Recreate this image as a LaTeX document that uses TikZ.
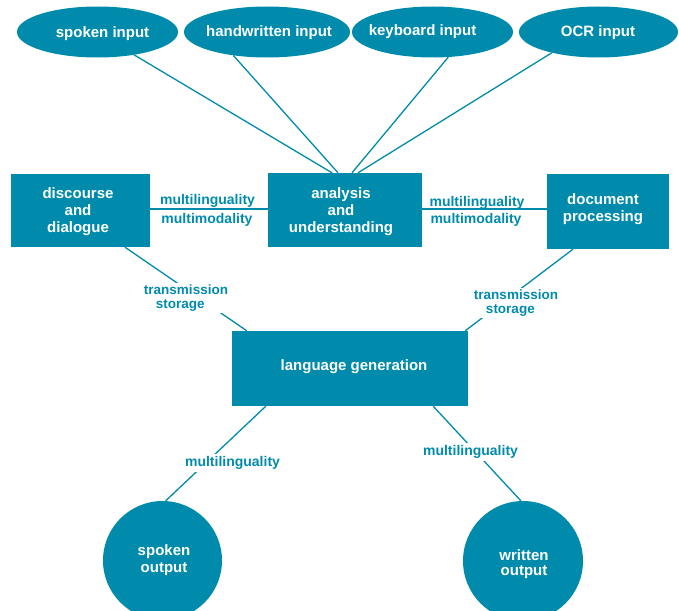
\documentclass[tikz,border=0pt]{standalone}
\usepackage{fontspec}
\setmainfont{Liberation Sans}
\usetikzlibrary{shapes.geometric}
\definecolor{tealc}{RGB}{0,139,173}
\begin{document}
\begin{tikzpicture}[x=1pt,y=-1pt,
  ell/.style={ellipse, fill=tealc, inner sep=0pt, minimum width=#1, minimum height=51pt},
  boxn/.style={rectangle, fill=tealc, inner sep=0pt},
  circ/.style={circle, fill=tealc, inner sep=0pt, minimum size=#1},
  ntext/.style={text=white, font=\fontsize{15}{17}\selectfont\bfseries, align=center, inner sep=0pt, yshift=-2pt},
  lab/.style={text=tealc, font=\fontsize{14}{16}\selectfont\bfseries, inner sep=0pt, yshift=-2pt},
  tlab/.style={text=tealc, font=\fontsize{13.5}{14}\selectfont\bfseries, align=left, fill=white, inner sep=2pt, yshift=-2pt},
  mlab/.style={lab, fill=white, inner sep=2pt},
  conn/.style={draw=tealc, line width=1.3pt}]
\useasboundingbox (0,0) rectangle (679,610);
% input ellipses
\node[ell=161pt] (si) at (97.5,32) {};
\node[ell=166pt] (hw) at (267,32) {};
\node[ell=161pt] (kb) at (432.5,32) {};
\node[ell=159pt] (ocr) at (598.5,32) {};
\node[ntext] (sit) at (102.5,32) {spoken input};
\node[ntext] (hwt) at (269,31) {handwritten input};
\node[ntext] (kbt) at (422.5,30) {keyboard input};
\node[ntext] (ocrt) at (598,31) {OCR input};
% boxes
\node[boxn, minimum width=139pt, minimum height=73pt] (dd) at (80.5,210.5) {};
\node[boxn, minimum width=154pt, minimum height=74pt] (an) at (345,210) {};
\node[boxn, minimum width=122pt, minimum height=75pt] (dp) at (608,211.5) {};
\node[boxn, minimum width=236pt, minimum height=75pt] (lg) at (350,368.5) {};
\node[ntext] (ddt) at (78,210) {discourse\\and\\dialogue};
\node[ntext] (ant) at (341,210) {analysis\\and\\understanding};
\node[ntext] (dpt) at (603,207.5) {document\\processing};
\node[ntext] (lgt) at (354,365) {language generation};
% output circles
\node[circ=119pt] (so) at (162.5,560.5) {};
\node[circ=120pt] (wo) at (523,561) {};
\node[ntext] (sot) at (164,558.5) {spoken\\output};
\node[ntext, font=\fontsize{15}{14.5}\selectfont\bfseries] (wot) at (524,562) {written\\output};
% connectors from inputs
\draw[conn] (si.-32.6) -- ([xshift=-13pt]an.north);
\draw[conn] (hw.-145.6) -- ([xshift=-7pt]an.north);
\draw[conn] (kb.-58.2) -- ([xshift=7pt]an.north);
\draw[conn] (ocr.-156.6) -- ([xshift=13pt]an.north);
% horizontal connectors
\draw[conn] (dd.east |- 0,209) -- (an.west |- 0,209);
\draw[conn] (an.east |- 0,209) -- (dp.west |- 0,209);
\node[lab] (ml1) at (207.5,199) {multilinguality};
\node[lab] (mm1) at (207,217.5) {multimodality};
\node[lab] (ml2) at (477,201) {multilinguality};
\node[lab] (mm2) at (476,218) {multimodality};
% transmission connectors
\draw[conn] ([xshift=44.5pt]dd.south) -- ([xshift=15pt]lg.north west);
\draw[conn] ([xshift=-35pt]dp.south) -- ([xshift=-3pt]lg.north east);
\node[tlab] (ts1) at (186,296) {transmission\\\hspace*{12pt}storage};
\node[tlab] (ts2) at (516,301) {transmission\\\hspace*{12pt}storage};
% output connectors
\draw[conn] ([xshift=34pt]lg.south west) -- (so.87);
\draw[conn] ([xshift=-35pt]lg.south east) -- (wo.92);
\node[mlab] (ml3) at (232.5,461) {multilinguality};
\node[mlab] (ml4) at (470.5,450) {multilinguality};
\end{tikzpicture}
\end{document}
